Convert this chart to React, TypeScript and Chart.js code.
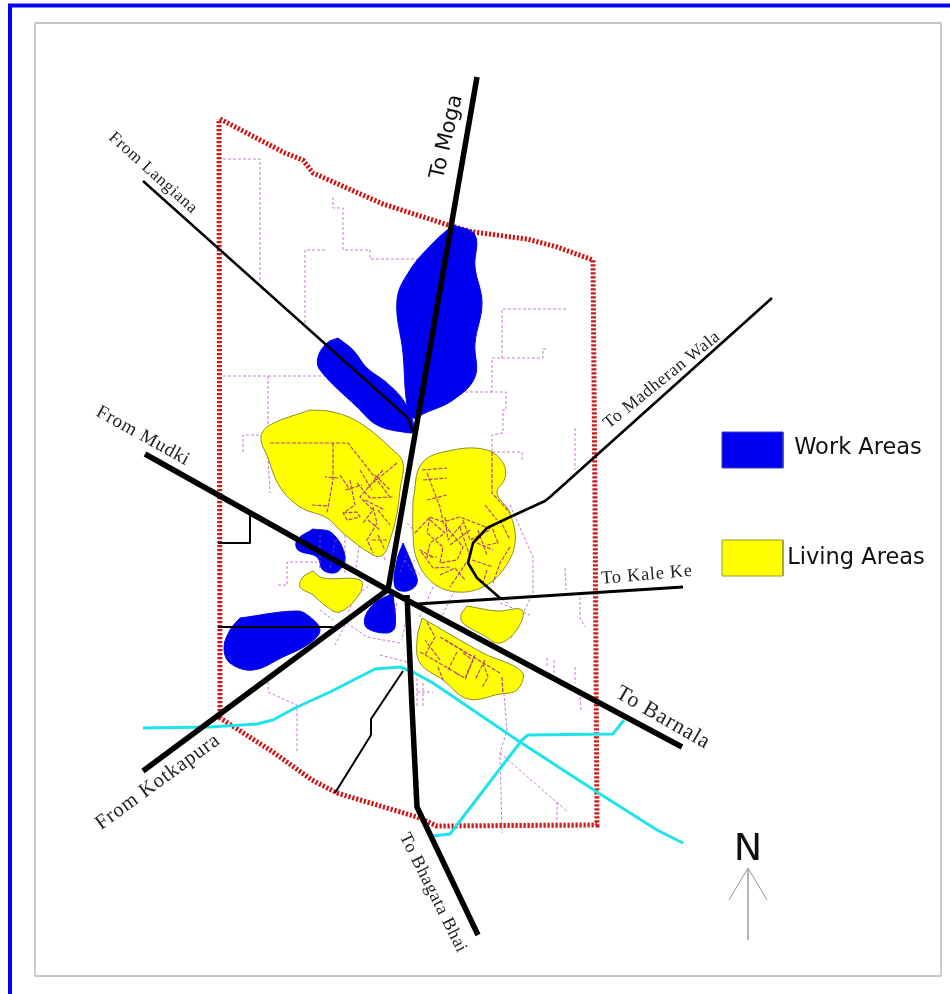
import React, { useEffect, useRef } from "react";
import { Chart, registerables } from "chart.js";

Chart.register(...registerables);

type P = [number, number];

// Frame
const pageEdge: P[] = [[10, 994], [10, 5.5], [950, 5.5]];
const panelTopBottom: P[][] = [[[35, 23], [941, 23]], [[35, 976], [941, 976]]];
const panelSides: P[][] = [[[35, 23], [35, 976]], [[941, 23], [941, 976]]];

// Town boundary
const boundary: P[] = [[220, 119], [285, 153], [303, 160], [313, 173], [383, 204], [448, 225], [473, 232], [527, 239], [557, 247], [593, 260], [595, 500], [597, 825], [437, 826], [417, 817], [337, 793], [312, 780], [273, 752], [220, 718], [219, 119]];

// Work areas
const workNorth: P[] = [[453, 225], [475, 235], [475, 267], [482, 303], [475, 343], [475, 377], [453, 400], [425, 413], [413, 418], [407, 405], [403, 353], [397, 300], [410, 270], [433, 243], [453, 225]];
const workNorthWest: P[] = [[338, 338], [353, 350], [367, 368], [387, 383], [405, 403], [414, 431], [403, 432], [377, 425], [357, 407], [320, 370], [318, 357], [327, 343], [338, 338]];
const workCentreWest: P[] = [[313, 529], [332, 533], [345, 557], [337, 572], [323, 570], [317, 557], [298, 550], [297, 540], [313, 529]];
const workCentreNorth: P[] = [[403, 543], [413, 567], [417, 583], [407, 591], [395, 587], [397, 560], [403, 543]];
const workCentreSouth: P[] = [[393, 593], [395, 627], [387, 633], [367, 628], [365, 617], [375, 603], [393, 593]];
const workSouthWest: P[] = [[240, 618], [297, 611], [310, 617], [320, 630], [310, 643], [283, 657], [253, 670], [230, 663], [224, 648], [230, 630], [240, 618]];

// Living areas
const liveNorthWest: P[] = [[310, 410], [270, 425], [261, 437], [268, 458], [280, 487], [300, 507], [327, 518], [343, 533], [373, 555], [383, 555], [390, 540], [397, 513], [400, 490], [403, 463], [393, 450], [360, 423], [333, 412], [310, 410]];
const liveNorthEast: P[] = [[413, 500], [422, 463], [453, 450], [487, 450], [503, 463], [505, 478], [497, 493], [510, 513], [515, 543], [503, 570], [483, 587], [457, 592], [433, 583], [417, 560], [413, 533], [413, 500]];
const liveWest: P[] = [[313, 571], [323, 578], [360, 580], [360, 593], [340, 612], [327, 607], [313, 595], [300, 587], [303, 577], [313, 571]];
const liveEast: P[] = [[467, 606], [497, 611], [522, 610], [518, 628], [500, 643], [483, 635], [463, 623], [461, 615], [467, 606]];
const liveSouth: P[] = [[422, 618], [483, 653], [522, 672], [517, 690], [500, 694], [468, 699], [443, 680], [420, 663], [417, 640], [422, 618]];

// Legend swatches
const workSwatch: P[] = [[722, 432], [783, 432], [783, 468], [722, 468], [722, 432]];
const liveSwatch: P[] = [[722, 540], [783, 540], [783, 576], [722, 576], [722, 540]];

// Minor street network, outside and across the areas
const outerStreets: P[][] = [
  [[223, 159], [260, 159], [260, 280]],
  [[333, 197], [333, 208], [343, 208], [343, 250], [370, 250], [370, 259], [443, 259]],
  [[325, 250], [305, 250], [305, 323]],
  [[223, 376], [360, 376]],
  [[268, 376], [268, 458], [270, 493]],
  [[566, 309], [502, 309], [502, 358], [492, 358], [492, 392]],
  [[502, 358], [543, 358], [543, 349], [548, 349]],
  [[440, 392], [506, 392], [506, 410], [503, 410], [503, 433], [492, 435], [492, 497], [500, 503]],
  [[492, 452], [522, 452], [522, 460]],
  [[575, 428], [575, 470]],
  [[243, 452], [243, 435], [260, 435]],
  [[278, 585], [287, 585], [287, 562], [317, 562]],
  [[510, 505], [533, 557], [533, 593], [520, 620], [510, 640]],
  [[503, 683], [507, 730], [500, 753], [502, 833]],
  [[500, 753], [568, 812]],
  [[557, 802], [557, 823]],
  [[565, 568], [566, 590]],
  [[580, 597], [580, 618], [585, 627]],
  [[575, 667], [575, 683]],
  [[547, 658], [547, 668]],
  [[554, 660], [554, 673]],
  [[580, 697], [581, 710]],
  [[268, 682], [268, 692], [297, 705], [297, 752]],
  [[380, 655], [407, 662]],
  [[423, 683], [423, 708]],
  [[417, 692], [433, 692]],
  [[417, 673], [417, 708]],
  [[407, 523], [420, 537]],
  [[320, 610], [333, 620]],
  [[360, 587], [348, 612]],
  [[347, 623], [367, 637], [400, 643]],
  [[433, 587], [420, 617]],
  [[397, 603], [393, 627]],
  [[455, 590], [440, 620]],
  [[490, 590], [510, 605]],
  [[410, 600], [402, 640]],
  [[345, 530], [345, 575]],
  [[360, 540], [355, 575]],
  [[400, 555], [420, 575]],
  [[397, 580], [415, 560]],
  [[350, 600], [370, 585]],
  [[385, 560], [375, 530]],
  [[345, 625], [335, 645]],
  [[500, 603], [530, 615]],
];

const innerStreets: P[][] = [
  [[270, 443], [348, 443], [377, 480], [390, 497]],
  [[333, 443], [333, 480], [327, 513]],
  [[383, 470], [360, 497], [373, 510], [363, 523]],
  [[397, 463], [373, 483]],
  [[338, 478], [325, 477]],
  [[357, 483], [370, 498], [393, 497]],
  [[343, 513], [357, 512], [360, 517], [347, 520], [343, 513]],
  [[312, 505], [328, 506]],
  [[373, 507], [377, 523], [367, 540], [373, 553]],
  [[387, 540], [370, 540]],
  [[350, 480], [355, 505], [343, 513]],
  [[360, 470], [372, 490]],
  [[375, 475], [390, 490]],
  [[365, 500], [385, 510]],
  [[378, 510], [390, 525]],
  [[345, 490], [362, 485]],
  [[378, 535], [385, 550]],
  [[340, 475], [350, 490]],
  [[368, 520], [380, 530]],
  [[422, 470], [447, 468]],
  [[423, 480], [447, 478]],
  [[427, 500], [447, 495]],
  [[427, 473], [440, 507], [443, 522]],
  [[415, 533], [430, 517], [443, 522], [460, 517], [493, 530], [498, 543], [487, 545]],
  [[430, 517], [427, 533], [443, 547], [440, 563], [457, 560], [463, 547], [443, 523]],
  [[450, 567], [433, 568], [420, 550], [433, 557]],
  [[460, 527], [470, 557], [450, 587]],
  [[477, 543], [493, 550]],
  [[472, 560], [493, 567]],
  [[487, 570], [483, 583]],
  [[510, 547], [500, 563], [493, 583]],
  [[492, 452], [492, 493], [510, 513]],
  [[430, 520], [445, 533], [430, 543], [427, 557], [437, 557]],
  [[445, 517], [448, 540], [463, 523]],
  [[463, 520], [470, 540], [490, 530]],
  [[478, 530], [487, 555]],
  [[450, 545], [470, 530]],
  [[440, 575], [455, 568], [465, 580]],
  [[500, 520], [510, 540]],
  [[485, 505], [497, 520]],
  [[427, 622], [435, 637], [425, 655]],
  [[420, 652], [460, 675]],
  [[440, 637], [500, 673]],
  [[457, 652], [448, 670]],
  [[463, 653], [473, 660], [465, 678], [455, 673]],
  [[483, 663], [488, 677], [482, 688]],
  [[502, 677], [503, 694]],
  [[438, 667], [443, 680]],
  [[445, 640], [470, 655]],
  [[475, 655], [465, 680]],
  [[485, 660], [475, 680]],
  [[440, 660], [425, 640]],
];

const streetsOverWork: P[][] = [
  [[405, 560], [415, 575]],
  [[400, 572], [408, 552]],
  [[320, 535], [320, 568]],
  [[335, 540], [330, 570]],
];

// Cyan canals
const canalMain: P[] = [[143, 728], [210, 727], [257, 724], [273, 720], [295, 708], [330, 692], [375, 669], [400, 667], [413, 672], [433, 683], [520, 742], [597, 792], [657, 830], [683, 843]];
const canalBranch: P[] = [[624, 720], [613, 734], [528, 735], [522, 740], [450, 834], [433, 836]];

// Roads
const roadMoga: P[] = [[477, 77], [388, 590]];
const roadBhagata: P[] = [[407, 595], [412, 707], [417, 807], [478, 935]];
const roadMudkiBarnala: P[] = [[145, 454], [388, 590], [682, 747]];
const roadKotkapura: P[] = [[143, 771], [390, 588]];
const roadKaleKe: P[] = [[417, 604], [683, 587]];
const roadLangiana: P[] = [[143, 181], [408, 418], [413, 433]];
const roadMadheran: P[] = [[772, 298], [550, 497], [545, 501], [510, 517], [487, 528], [473, 543], [468, 563], [477, 578], [500, 598]];
const spurWest: P[] = [[218, 543], [250, 543], [250, 515]];
const spurSouthWest: P[] = [[218, 627], [333, 627]];
const spurSouth: P[] = [[335, 793], [371, 735], [371, 719], [403, 671]];

// North arrow
const arrowHead: P[] = [[729, 900], [748, 868], [767, 900]];
const arrowStem: P[] = [[748, 868], [748, 940]];

// Texts
const roadNames = ["From Langiana", "From Mudki", "From Kotkapura", "To Madheran Wala", "To Kale Ke", "To Barnala", "To Bhagata Bhai"];
const roadNameAnchors: P[] = [[153, 173], [143, 436], [158, 782], [662, 380], [647, 575], [663, 718], [433, 893]];
const roadNameAngles = [42, 29, -36, -39, -5, 30, 63.5];
const roadNameSizes = [17, 19, 20.7, 17.5, 18.4, 22, 18];
const legendNames = ["Work Areas", "Living Areas"];

const BLUE = "#0000f0";
const YELLOW = "#ffff00";
const ROAD = "#000000";
const RED = "#cf1616";
const CYAN = "#1fe3ea";
const STREET_OUT = "#c77ad0";
const STREET_IN = "#b8437a";

const toPts = (list: P[]) => list.map(([x, y]) => ({ x, y }));

const line = (list: P[], color: string, width: number, extra: Record<string, unknown> = {}) => ({
  data: toPts(list),
  showLine: true,
  fill: false,
  borderColor: color,
  borderWidth: width,
  pointRadius: 0,
  tension: 0,
  borderJoinStyle: "round",
  ...extra,
});

const blob = (list: P[], color: string, edge: string) =>
  line(list, edge, 1, { fill: "shape", backgroundColor: color, tension: 0.38 });

const textPlugin = {
  id: "mapText",
  afterDatasetsDraw(chart: any) {
    const { ctx, scales } = chart;
    const put = (text: string, x: number, y: number, deg: number, font: string, color: string, spacing = "0px") => {
      ctx.save();
      ctx.translate(scales.x.getPixelForValue(x), scales.y.getPixelForValue(y));
      ctx.rotate((deg * Math.PI) / 180);
      ctx.font = font;
      ctx.fillStyle = color;
      ctx.textAlign = "center";
      ctx.textBaseline = "middle";
      ctx.letterSpacing = spacing;
      ctx.fillText(text, 0, 0);
      ctx.restore();
    };
    roadNames.forEach((name, i) => {
      const size = roadNameSizes[i];
      put(name, roadNameAnchors[i][0], roadNameAnchors[i][1], roadNameAngles[i], `${size}px "Liberation Serif"`, "#222", `${(size * 0.04).toFixed(2)}px`);
    });
    put("To Moga", 447, 137, -77, '21px "DejaVu Sans"', "#111");
    put(legendNames[0], 858, 448, 0, '22.5px "DejaVu Sans"', "#111");
    put(legendNames[1], 856, 558, 0, '22.5px "DejaVu Sans"', "#111");
    put("N", 748, 850, 0, '38px "DejaVu Sans"', "#111");
  },
};

export default function App() {
  const ref = useRef<HTMLCanvasElement | null>(null);

  useEffect(() => {
    if (!ref.current) return;
    const datasets: any[] = [
      line(pageEdge, "#0000f5", 4, { borderJoinStyle: "miter" }),
      ...panelTopBottom.map((l) => line(l, "#8a8a8a", 1)),
      ...panelSides.map((l) => line(l, "#c4c4c4", 1)),
      ...outerStreets.map((l) => line(l, STREET_OUT, 1, { borderDash: [3, 2] })),
      line(boundary, RED, 5, { borderDash: [2.2, 1.8], borderJoinStyle: "miter" }),
      blob(workNorth, BLUE, BLUE),
      blob(workNorthWest, BLUE, BLUE),
      blob(workCentreWest, BLUE, BLUE),
      blob(workCentreNorth, BLUE, BLUE),
      blob(workCentreSouth, BLUE, BLUE),
      blob(workSouthWest, BLUE, BLUE),
      blob(liveNorthWest, YELLOW, "#8a8a30"),
      blob(liveNorthEast, YELLOW, "#8a8a30"),
      blob(liveWest, YELLOW, "#8a8a30"),
      blob(liveEast, YELLOW, "#8a8a30"),
      blob(liveSouth, YELLOW, "#8a8a30"),
      ...innerStreets.map((l) => line(l, STREET_IN, 1.2, { borderDash: [4, 1.5] })),
      ...streetsOverWork.map((l) => line(l, "#6a3ae0", 1, { borderDash: [3, 2] })),
      line(canalMain, CYAN, 3),
      line(canalBranch, CYAN, 3),
      line(roadMoga, ROAD, 5.5),
      line(roadBhagata, ROAD, 5.5),
      line(roadMudkiBarnala, ROAD, 5.5),
      line(roadKotkapura, ROAD, 5.5),
      line(roadKaleKe, ROAD, 3.2),
      line(roadLangiana, ROAD, 2.4),
      line(roadMadheran, ROAD, 2.6),
      line(spurWest, ROAD, 2),
      line(spurSouthWest, ROAD, 2),
      line(spurSouth, ROAD, 2),
      line(workSwatch, "#3a3ac8", 1, { fill: "shape", backgroundColor: BLUE }),
      line(liveSwatch, "#9a9a30", 1, { fill: "shape", backgroundColor: YELLOW }),
      line(arrowHead, "#777", 0.8),
      line(arrowStem, "#aaa", 1),
    ];
    const n = datasets.length;
    datasets.forEach((d, i) => {
      d.order = n - i;
    });
    const chart = new Chart(ref.current, {
      type: "scatter",
      data: { datasets },
      options: {
        animation: false,
        responsive: false,
        devicePixelRatio: 1,
        layout: { padding: 0 },
        plugins: { legend: { display: false }, tooltip: { enabled: false }, title: { display: false } },
        scales: {
          x: { type: "linear", min: 0, max: 950, display: false },
          y: { type: "linear", min: 0, max: 994, reverse: true, display: false },
        },
      },
      plugins: [textPlugin],
    } as any);
    return () => chart.destroy();
  }, []);

  return (
    <canvas
      ref={ref}
      width={950}
      height={994}
      style={{ position: "absolute", left: 0, top: 0, width: 950, height: 994, display: "block", background: "#fff", filter: "blur(0.4px)" }}
    />
  );
}
